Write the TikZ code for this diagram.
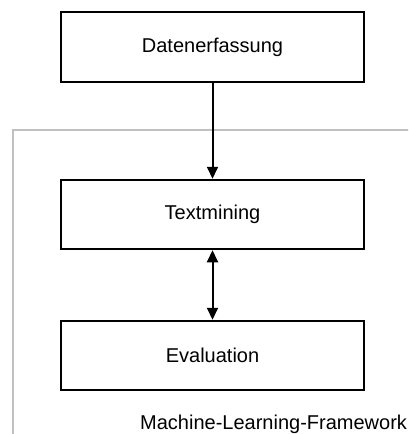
\documentclass[tikz,border=0pt]{standalone}
\usepackage{fontspec}
\setmainfont{Liberation Sans}
\usetikzlibrary{arrows.meta}
\begin{document}
\begin{tikzpicture}[x=1pt,y=-1pt,
  stepbox/.style={draw=black,line width=2pt,minimum width=303pt,minimum height=69.5pt,inner sep=0pt,font=\fontsize{20}{24}\selectfont},
  conn/.style={line width=2pt,-{Triangle[length=12pt,width=11pt]}},
  dconn/.style={line width=2pt,{Triangle[length=12pt,width=11pt]}-{Triangle[length=12pt,width=11pt]}}]
\useasboundingbox (0,0) rectangle (408,434);
\begin{scope}
\clip (0,0) rectangle (408,434);
\draw[line width=2pt,draw={rgb,255:red,192;green,192;blue,192}] (13,440) -- (13,130) -- (412,130);
\node[stepbox] (daten) at (212.5,47) {Datenerfassung};
\node[stepbox] (text) at (212.5,214.5) {Textmining};
\node[stepbox] (eval) at (212.5,355.5) {Evaluation};
\draw[conn] (daten.south) -- (text.north);
\draw[dconn] (text.south) -- (eval.north);
\node[anchor=base west,inner sep=0pt,font=\fontsize{20}{24}\selectfont] (frame) at (140,429) {Machine-Learning-Framework};
\end{scope}
\end{tikzpicture}
\end{document}
